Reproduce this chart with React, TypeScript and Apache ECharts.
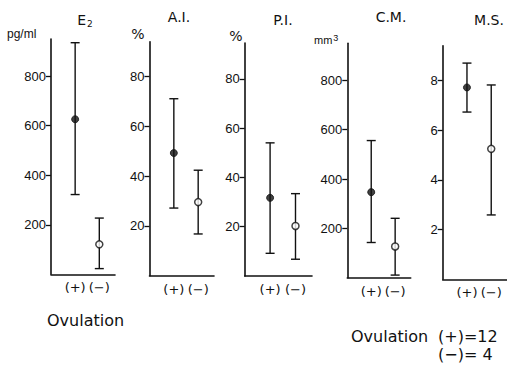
import React, { useEffect, useRef } from 'react';
import * as echarts from 'echarts';

// ---- data ----
const panelNames = ['E2', 'A.I.', 'P.I.', 'C.M.', 'M.S.'];
const groups = ['(+)', '(−)'];
const plusMean = [626, 49.3, 31.7, 347, 7.72];
const plusLow = [322, 27.2, 9.2, 143, 6.73];
const plusHigh = [935, 71.1, 54.0, 556, 8.7];
const minusMean = [121, 29.6, 20.3, 127, 5.25];
const minusLow = [23, 16.8, 6.8, 11, 2.59];
const minusHigh = [227, 42.4, 33.4, 241, 7.82];
const yMax = [950, 94, 94.5, 950, 9.4];
const yInterval = [200, 20, 20, 200, 2];
const yTickValues = [
  [200, 400, 600, 800],
  [20, 40, 60, 80],
  [20, 40, 60, 80],
  [200, 400, 600, 800],
  [2, 4, 6, 8],
];
const nPlus = 12;
const nMinus = 4;

// ---- layout ----
const gridBoxes = [
  { left: 51, top: 39, width: 64, height: 235.3 },
  { left: 149.5, top: 41.7, width: 64.5, height: 234.1 },
  { left: 244.7, top: 43, width: 67.3, height: 233 },
  { left: 347.3, top: 43.3, width: 63.4, height: 234.5 },
  { left: 442.7, top: 45.7, width: 66, height: 233.6 },
];
const X_MAX = 2.65;
const INK = '#111';
const TEXT = '#111';

export default function App() {
  const ref = useRef<HTMLDivElement>(null);

  useEffect(() => {
    if (!ref.current) return;
    const chart = echarts.init(ref.current, null, { renderer: 'svg' });

    const grid = gridBoxes.map((g) => ({ ...g, containLabel: false }));

    const xAxis = gridBoxes.map((_, i) => ({
      type: 'value',
      gridIndex: i,
      min: 0,
      max: X_MAX,
      interval: 1,
      axisLine: { show: true, onZero: false, lineStyle: { color: INK, width: 1.6 } },
      axisTick: { show: false },
      splitLine: { show: false },
      axisLabel: {
        show: true,
        customValues: [1, 2],
        formatter: (v: number) => groups[Math.round(v) - 1] ?? '',
        margin: 7,
        fontSize: 13,
        fontFamily: 'DejaVu Sans',
        color: TEXT,
      },
    }));

    const yAxis = gridBoxes.map((_, i) => ({
      type: 'value',
      gridIndex: i,
      min: 0,
      max: yMax[i],
      interval: yInterval[i],
      axisLine: { show: true, onZero: false, lineStyle: { color: INK, width: 1.6 } },
      axisTick: {
        show: true,
        length: 5,
        customValues: yTickValues[i],
        lineStyle: { color: INK, width: 1.3 },
      },
      splitLine: { show: false },
      axisLabel: {
        show: true,
        customValues: yTickValues[i],
        margin: 5,
        fontSize: 13,
        fontFamily: 'Liberation Sans',
        color: TEXT,
      },
    }));

    const series: any[] = [];
    panelNames.forEach((name, i) => {
      series.push({
        type: 'custom',
        name: name + ' range',
        xAxisIndex: i,
        yAxisIndex: i,
        clip: false,
        encode: { x: 0, y: [1, 2] },
        data: [
          [1, plusLow[i], plusHigh[i]],
          [2, minusLow[i], minusHigh[i]],
        ],
        renderItem: (_params: any, api: any) => {
          const x = api.value(0);
          const lo = api.coord([x, api.value(1)]);
          const hi = api.coord([x, api.value(2)]);
          const cw = 4.5;
          const style = { stroke: INK, lineWidth: 1.4, fill: null };
          return {
            type: 'group',
            children: [
              { type: 'line', shape: { x1: lo[0], y1: lo[1], x2: hi[0], y2: hi[1] }, style },
              { type: 'line', shape: { x1: lo[0] - cw, y1: lo[1], x2: lo[0] + cw, y2: lo[1] }, style },
              { type: 'line', shape: { x1: hi[0] - cw, y1: hi[1], x2: hi[0] + cw, y2: hi[1] }, style },
            ],
          };
        },
        z: 2,
      });
      series.push({
        type: 'scatter',
        name: name + ' (+)',
        xAxisIndex: i,
        yAxisIndex: i,
        symbol: 'circle',
        symbolSize: 7,
        itemStyle: { color: INK, borderColor: INK, borderWidth: 1 },
        data: [[1, plusMean[i]]],
        z: 3,
      });
      series.push({
        type: 'scatter',
        name: name + ' (−)',
        xAxisIndex: i,
        yAxisIndex: i,
        symbol: 'circle',
        symbolSize: 7,
        itemStyle: { color: '#fff', borderColor: INK, borderWidth: 1.5 },
        data: [[2, minusMean[i]]],
        z: 3,
      });
    });

    const titleFont = { fontSize: 14, fontFamily: 'DejaVu Sans', fill: TEXT };
    const graphic: any[] = [
      {
        type: 'text',
        x: 85,
        y: 20,
        style: {
          text: 'E{sub|2}',
          align: 'center',
          verticalAlign: 'middle',
          ...titleFont,
          rich: { sub: { fontSize: 9, fontFamily: 'DejaVu Sans', padding: [7, 0, 0, 1], fill: TEXT } },
        },
      },
      { type: 'text', x: 179, y: 17, style: { text: panelNames[1], align: 'center', verticalAlign: 'middle', ...titleFont } },
      { type: 'text', x: 283, y: 20, style: { text: panelNames[2], align: 'center', verticalAlign: 'middle', ...titleFont } },
      { type: 'text', x: 391, y: 17, style: { text: panelNames[3], align: 'center', verticalAlign: 'middle', ...titleFont } },
      { type: 'text', x: 489, y: 20, style: { text: panelNames[4], align: 'center', verticalAlign: 'middle', ...titleFont } },
      { type: 'text', x: 7, y: 34, style: { text: 'pg/ml', align: 'left', verticalAlign: 'middle', fontSize: 12, fontFamily: 'Liberation Sans', fill: TEXT } },
      { type: 'text', x: 138, y: 34, style: { text: '%', align: 'center', verticalAlign: 'middle', fontSize: 14, fontFamily: 'DejaVu Sans', fill: TEXT } },
      { type: 'text', x: 236, y: 36, style: { text: '%', align: 'center', verticalAlign: 'middle', fontSize: 14, fontFamily: 'DejaVu Sans', fill: TEXT } },
      {
        type: 'text',
        x: 314,
        y: 40,
        style: {
          text: 'mm{sup|3}',
          align: 'left',
          verticalAlign: 'middle',
          fontSize: 11,
          fontFamily: 'Liberation Sans',
          fill: TEXT,
          rich: { sup: { fontSize: 9, fontFamily: 'Liberation Sans', padding: [0, 0, 5, 1], fill: TEXT } },
        },
      },
      { type: 'text', x: 47, y: 320, style: { text: 'Ovulation', align: 'left', verticalAlign: 'middle', fontSize: 16, fontFamily: 'DejaVu Sans', fill: TEXT } },
      { type: 'text', x: 351, y: 336, style: { text: 'Ovulation', align: 'left', verticalAlign: 'middle', fontSize: 16, fontFamily: 'DejaVu Sans', fill: TEXT } },
      { type: 'text', x: 438, y: 336, style: { text: `${groups[0]}=${nPlus}`, align: 'left', verticalAlign: 'middle', fontSize: 16, fontFamily: 'DejaVu Sans', fill: TEXT } },
      { type: 'text', x: 438, y: 354, style: { text: `${groups[1]}= ${nMinus}`, align: 'left', verticalAlign: 'middle', fontSize: 16, fontFamily: 'DejaVu Sans', fill: TEXT } },
    ];

    chart.setOption({
      animation: false,
      backgroundColor: '#ffffff',
      grid,
      xAxis,
      yAxis,
      series,
      graphic,
    });

    return () => chart.dispose();
  }, []);

  return (
    <div
      ref={ref}
      style={{ position: 'fixed', left: 0, top: 0, width: 507, height: 365, background: '#fff' }}
    />
  );
}
